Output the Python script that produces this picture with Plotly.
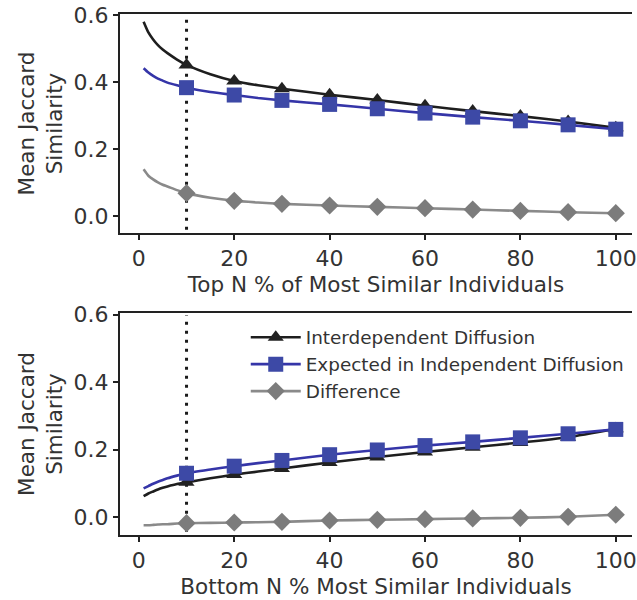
import plotly.graph_objects as go
from plotly.subplots import make_subplots

# percentage of individuals considered (top / bottom N %)
pct = [1, 2, 3, 4, 5, 6, 8, 10, 15, 20, 25, 30, 40, 50, 60, 70, 80, 90, 100]
marker_pct = [10, 20, 30, 40, 50, 60, 70, 80, 90, 100]

# Top N % of most similar individuals
top_interdependent = [0.580, 0.548, 0.527, 0.510, 0.497, 0.486, 0.467, 0.451, 0.423, 0.403,
                      0.390, 0.380, 0.362, 0.346, 0.329, 0.313, 0.298, 0.282, 0.263]
top_expected = [0.441, 0.428, 0.418, 0.410, 0.404, 0.398, 0.390, 0.383, 0.370, 0.361,
                0.352, 0.345, 0.333, 0.320, 0.307, 0.295, 0.284, 0.272, 0.259]
top_difference = [0.139, 0.120, 0.109, 0.100, 0.093, 0.088, 0.077, 0.068, 0.054, 0.045,
                  0.040, 0.036, 0.031, 0.027, 0.023, 0.019, 0.015, 0.011, 0.008]

# Bottom N % most similar individuals
bot_interdependent = [0.062, 0.070, 0.076, 0.082, 0.087, 0.091, 0.098, 0.103, 0.115, 0.126,
                      0.135, 0.144, 0.162, 0.178, 0.193, 0.207, 0.221, 0.237, 0.262]
bot_expected = [0.085, 0.092, 0.099, 0.105, 0.110, 0.115, 0.123, 0.130, 0.141, 0.151,
                0.160, 0.168, 0.185, 0.199, 0.212, 0.223, 0.235, 0.247, 0.260]
bot_difference = [-0.024, -0.024, -0.023, -0.022, -0.021, -0.021, -0.019, -0.018, -0.017, -0.016,
                  -0.015, -0.014, -0.010, -0.008, -0.006, -0.004, -0.002, 0.001, 0.007]

series_names = ["Interdependent Diffusion", "Expected in Independent Diffusion", "Difference"]
threshold_pct = 10

FONT = "DejaVu Sans"
TEXT = "#333333"
AXIS = "#222222"

styles = [
    dict(line="#1e1e1e", marker="#222222", symbol="triangle-up", size=14),
    dict(line="#3535a8", marker="#3d49a6", symbol="square", size=15),
    dict(line="#8a8a8a", marker="#7c7c7c", symbol="diamond", size=14),
]

fig = make_subplots(rows=2, cols=1, vertical_spacing=0.0)


def add_panel(row, values):
    for name, vals, st in zip(series_names, values, styles):
        fig.add_trace(go.Scatter(x=pct, y=vals, mode="lines", line=dict(color=st["line"], width=2.6,
                                 shape="spline", smoothing=0.6), showlegend=False, hoverinfo="skip"),
                      row=row, col=1)
        mk_y = [v for p, v in zip(pct, vals) if p in marker_pct]
        mk_x = [p for p in pct if p in marker_pct]
        fig.add_trace(go.Scatter(x=mk_x, y=mk_y, mode="markers",
                                 marker=dict(symbol=st["symbol"], size=st["size"], color=st["marker"],
                                             line=dict(width=0)),
                                 showlegend=False), row=row, col=1)


add_panel(1, [top_interdependent, top_expected, top_difference])
add_panel(2, [bot_interdependent, bot_expected, bot_difference])

# legend entries (bottom panel)
for i, (name, st) in enumerate(zip(series_names, styles)):
    fig.add_trace(go.Scatter(x=[None], y=[None], mode="lines+markers", name=name, legendgroup=f"g{i}",
                             line=dict(color=st["line"], width=2.6),
                             marker=dict(symbol=st["symbol"], size=st["size"], color=st["marker"])),
                  row=2, col=1)

# dotted threshold line at N = 10 %
for yref in ["y domain", "y2 domain"]:
    xref = "x" if yref == "y domain" else "x2"
    fig.add_shape(type="line", x0=threshold_pct, x1=threshold_pct, y0=0.015, y1=0.99,
                  xref=xref, yref=yref, line=dict(color="#1a1a1a", width=3, dash="3px,6px"),
                  layer="below")

axis_common = dict(showline=True, linecolor=AXIS, linewidth=2, ticks="outside", ticklen=5,
                   tickwidth=1.5, tickcolor=AXIS, showgrid=False, zeroline=False,
                   tickfont=dict(family=FONT, size=22, color=TEXT))

fig.update_xaxes(**axis_common, mirror=True, range=[-3.95, 103.4], tickvals=[0, 20, 40, 60, 80, 100],
                 ticklabeloverflow="allow")
fig.update_yaxes(**axis_common, mirror=False, tickvals=[0.0, 0.2, 0.4, 0.6], tickformat=".1f")

title_font = dict(family=FONT, size=21.5, color=TEXT)
fig.update_xaxes(title=dict(text="Top N % of Most Similar Individuals", font=title_font, standoff=7),
                 row=1, col=1)
fig.update_xaxes(title=dict(text="Bottom N % Most Similar Individuals", font=title_font, standoff=7),
                 row=2, col=1)
fig.update_yaxes(range=[-0.051, 0.603], domain=[0.5797, 1.0],
                 title=dict(text="Mean Jaccard<br>Similarity", font=title_font, standoff=5), row=1, col=1)
fig.update_yaxes(range=[-0.053, 0.605], domain=[0.0, 0.4261],
                 title=dict(text="Mean Jaccard<br>Similarity", font=title_font, standoff=5), row=2, col=1)

fig.update_layout(
    width=637, height=600,
    margin=dict(l=120, r=0, t=14, b=65),
    paper_bgcolor="white", plot_bgcolor="white",
    font=dict(family=FONT, color=TEXT),
    legend=dict(x=0.2456, y=0.415, xanchor="left", yanchor="top", bgcolor="rgba(0,0,0,0)",
                font=dict(family=FONT, size=18.4, color=TEXT), itemwidth=50, tracegroupgap=0),
)

fig.write_html("out.html")
